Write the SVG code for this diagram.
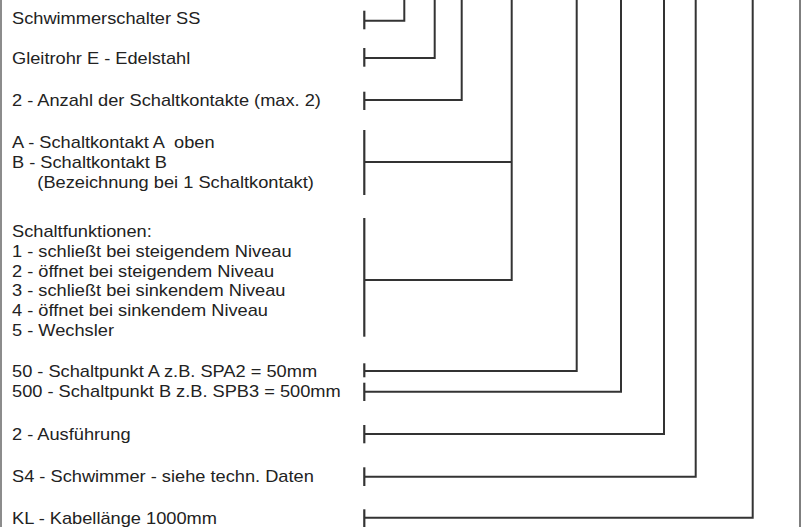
<svg xmlns="http://www.w3.org/2000/svg" width="806" height="527" viewBox="0 0 806 527">
<style>
.t{font-family:"Liberation Sans",Arial,sans-serif;font-size:16px;fill:#222}
.c{fill:none;stroke:#333;stroke-width:2}
.k{stroke:#333;stroke-width:2.2}
</style>
<rect width="806" height="527" fill="#fff"/>
<line x1="1" y1="0" x2="1" y2="527" stroke="#666" stroke-width="1.5"/>
<line x1="800" y1="0" x2="800" y2="527" stroke="#555" stroke-width="1.5"/>
<g id="labels" transform="translate(12,0) scale(1.14,1)">
<g id="n1"><text class="t" x="0" y="24">Schwimmerschalter SS</text></g>
<g id="n2"><text class="t" x="0" y="64">Gleitrohr E - Edelstahl</text></g>
<g id="n3"><text class="t" x="0" y="106">2 - Anzahl der Schaltkontakte (max. 2)</text></g>
<g id="n4"><text class="t" x="0" y="148" xml:space="preserve">A - Schaltkontakt A  oben</text>
<text class="t" x="0" y="168">B - Schaltkontakt B</text>
<text class="t" x="0" y="188" xml:space="preserve">     (Bezeichnung bei 1 Schaltkontakt)</text></g>
<g id="n5"><text class="t" x="0" y="237">Schaltfunktionen:</text>
<text class="t" x="0" y="256.8">1 - schließt bei steigendem Niveau</text>
<text class="t" x="0" y="276.6">2 - öffnet bei steigendem Niveau</text>
<text class="t" x="0" y="296.4">3 - schließt bei sinkendem Niveau</text>
<text class="t" x="0" y="316.2">4 - öffnet bei sinkendem Niveau</text>
<text class="t" x="0" y="336">5 - Wechsler</text></g>
<g id="n6"><text class="t" x="0" y="377">50 - Schaltpunkt A z.B. SPA2 = 50mm</text></g>
<g id="n7"><text class="t" x="0" y="397.5">500 - Schaltpunkt B z.B. SPB3 = 500mm</text></g>
<g id="n8"><text class="t" x="0" y="440">2 - Ausführung</text></g>
<g id="n9"><text class="t" x="0" y="482.5">S4 - Schwimmer - siehe techn. Daten</text></g>
<g id="n10"><text class="t" x="0" y="524">KL - Kabellänge 1000mm</text></g>
</g>
<g id="connectors">
<line class="k" x1="364.3" y1="10.7" x2="364.3" y2="29.3"/>
<polyline class="c" points="364.3,20.7 404.3,20.7 404.3,0"/>
<line class="k" x1="364.3" y1="48" x2="364.3" y2="66.7"/>
<polyline class="c" points="364.3,58 434.7,58 434.7,0"/>
<line class="k" x1="364.3" y1="91.7" x2="364.3" y2="110"/>
<polyline class="c" points="364.3,100 461.7,100 461.7,0"/>
<line class="k" x1="364.3" y1="130" x2="364.3" y2="195"/>
<polyline class="c" points="364.3,162 511.7,162"/>
<line class="k" x1="364.3" y1="218" x2="364.3" y2="336.7"/>
<polyline class="c" points="364.3,280 511.7,280 511.7,0"/>
<line class="k" x1="364.3" y1="363.3" x2="364.3" y2="377.3"/>
<polyline class="c" points="364.3,371 576.7,371 576.7,0"/>
<line class="k" x1="364.3" y1="382.7" x2="364.3" y2="401"/>
<polyline class="c" points="364.3,391.7 621,391.7 621,0"/>
<line class="k" x1="364.3" y1="425" x2="364.3" y2="443.3"/>
<polyline class="c" points="364.3,434 664,434 664,0"/>
<line class="k" x1="364.3" y1="467.3" x2="364.3" y2="486"/>
<polyline class="c" points="364.3,476.7 695.7,476.7 695.7,0"/>
<line class="k" x1="364.3" y1="509.3" x2="364.3" y2="527"/>
<polyline class="c" points="364.3,517.7 752.7,517.7 752.7,0"/>
</g>
</svg>
